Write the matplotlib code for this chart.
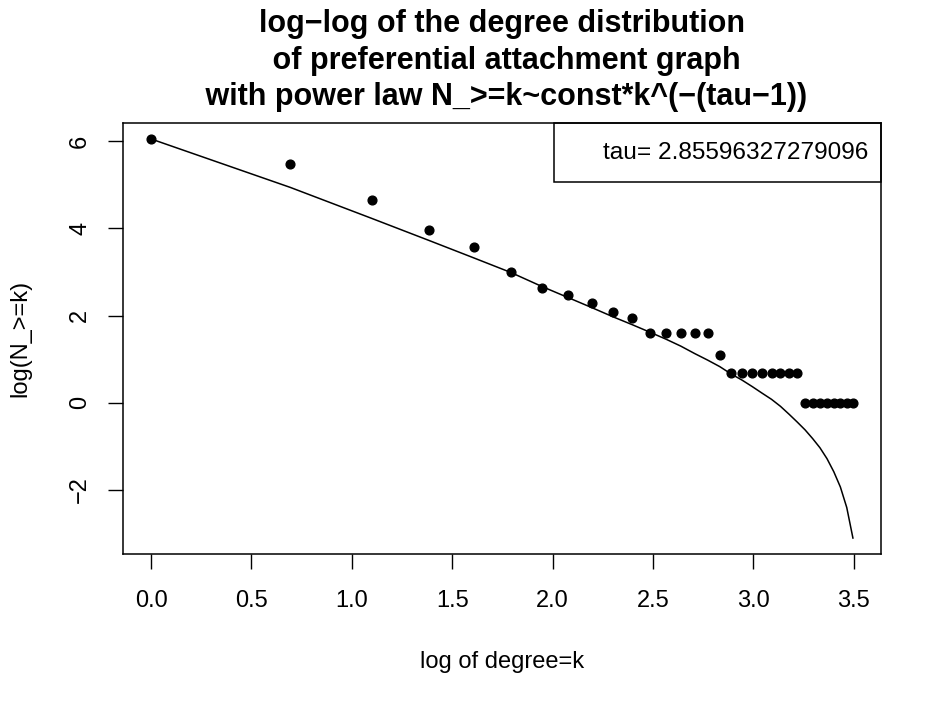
import numpy as np
import matplotlib.pyplot as plt
from matplotlib.patches import Rectangle

plt.rcParams['font.family'] = ['Liberation Sans', 'DejaVu Sans']

# degree k = 1..33, plotted on log scale
degree = np.arange(1, 34)

# log(N_>=k)
log_count = [6.05, 5.48, 4.66, 3.97, 3.58, 3.00, 2.64, 2.48, 2.30, 2.08, 1.95,
             1.61, 1.61, 1.61, 1.61, 1.61, 1.10,
             0.69, 0.69, 0.69, 0.69, 0.69, 0.69, 0.69, 0.69,
             0.0, 0.0, 0.0, 0.0, 0.0, 0.0, 0.0, 0.0]

# fitted power law curve at each k
log_fit = [6.05, 4.94, 4.23, 3.72, 3.32, 2.99, 2.67, 2.41, 2.18, 1.97, 1.79,
           1.62, 1.46, 1.30, 1.13, 0.98, 0.83, 0.66, 0.52, 0.37, 0.22, 0.08,
           -0.08, -0.26, -0.44, -0.62, -0.82, -1.03, -1.28, -1.58, -1.93,
           -2.40, -3.10]

tau = "2.85596327279096"

xticks = [0.0, 0.5, 1.0, 1.5, 2.0, 2.5, 3.0, 3.5]
yticks = [-2, 0, 2, 4, 6]

W, H = 944, 709
fig = plt.figure(figsize=(W / 100, H / 100), dpi=100)
ax = fig.add_axes([123 / W, 1 - 554 / H, (881 - 123) / W, (554 - 123) / H])

x = np.log(degree)
ax.plot(x, log_fit, color='black', lw=1.1)
ax.plot(x, log_count, 'o', color='black', ms=6.3, mec='black')

# R style 4% padding
xr = x.max() - x.min()
ax.set_xlim(x.min() - 0.04 * xr, x.max() + 0.04 * xr)
ymin, ymax = min(log_fit), max(log_count)
yr = ymax - ymin
ax.set_ylim(ymin - 0.04 * yr, ymax + 0.04 * yr)

ax.set_xticks(xticks)
ax.set_xticklabels([f"{t:.1f}" for t in xticks])
ax.set_yticks(yticks)
ax.set_yticklabels([str(t).replace('-', '\u2212') for t in yticks], rotation=90, va='center')
ax.tick_params(length=11, width=1.0, labelsize=17)
ax.tick_params(axis='x', pad=15)
ax.tick_params(axis='y', pad=12)
for s in ax.spines.values():
    s.set_linewidth(1.1)

# legend box in the top right corner
ax.add_patch(Rectangle((0.5686, 0.863), 0.4314, 0.137, transform=ax.transAxes,
                       fill=False, lw=1.1, clip_on=False))
ax.text(0.983, 0.930, "tau= " + tau, transform=ax.transAxes,
        ha='right', va='center', fontsize=17.6)

title = ["log\u2212log of the degree distribution",
         " of preferential attachment graph",
         " with power law N_>=k~const*k^(\u2212(tau\u22121))"]
for i, line in enumerate(title):
    fig.text(502 / W, 1 - (24 + 36.5 * i) / H, line, ha='center', va='center',
             fontsize=22, fontweight='bold')

fig.text(502 / W, 1 - 662 / H, "log of degree=k", ha='center', va='center', fontsize=17)
fig.text(20 / W, 1 - 338.5 / H, "log(N_>=k)", ha='center', va='center',
         rotation=90, fontsize=17)

fig.savefig("out.png", dpi=100)
